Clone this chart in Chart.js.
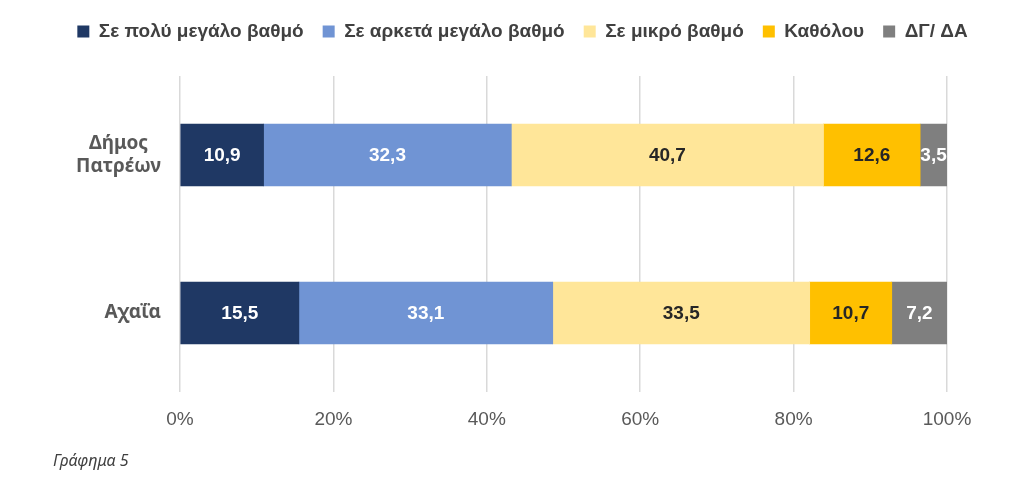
<!DOCTYPE html>
<html>
<head>
<meta charset="utf-8">
<script src="https://cdn.jsdelivr.net/npm/chart.js@4"></script>
<style>
  html, body { margin: 0; padding: 0; background: #fff; }
  #wrap { position: relative; width: 1011px; height: 484px; }
  #caption {
    position: absolute; left: 53px; top: 449px;
    font: italic 16px "Noto Sans", "Liberation Sans", sans-serif; color: #404040;
  }
</style>
</head>
<body>
<div id="wrap">
  <canvas id="chart" width="1011" height="484"></canvas>
  <div id="caption">Γράφημα 5</div>
</div>
<script>
// κατηγορίες (άξονας y)
const categories = [['Δήμος', 'Πατρέων'], 'Αχαΐα'];

// σειρές (%)
const seriesNames = ['Σε πολύ μεγάλο βαθμό', 'Σε αρκετά μεγάλο βαθμό', 'Σε μικρό βαθμό', 'Καθόλου', 'ΔΓ/ ΔΑ'];
const veryMuch   = [10.9, 15.5];
const quiteMuch  = [32.3, 33.1];
const little     = [40.7, 33.5];
const notAtAll   = [12.6, 10.7];
const dontKnow   = [3.5, 7.2];

const xTicks = [0, 20, 40, 60, 80, 100];

const colors = ['#1f3864', '#7094d4', '#ffe699', '#ffc000', '#7f7f7f'];
const labelColors = ['#ffffff', '#ffffff', '#262626', '#262626', '#ffffff'];

const allSeries = [veryMuch, quiteMuch, little, notAtAll, dontKnow];

// κενό κάτω από το υπόμνημα + μετατόπιση προς τα δεξιά
const legendGap = {
  id: 'legendGap',
  afterInit(chart) {
    const lg = chart.legend;
    const fit = lg.fit.bind(lg);
    lg.fit = function () { fit(); this.height += 25; };
  },
  afterLayout(chart) {
    chart.legend.left += 49;
    chart.legend.right += 49;
  }
};

// ετικέτες τιμών μέσα στις μπάρες
const barLabels = {
  id: 'barLabels',
  afterDatasetsDraw(chart) {
    const ctx = chart.ctx;
    ctx.save();
    ctx.font = 'bold 19px "Liberation Sans", Arial, sans-serif';
    ctx.textAlign = 'center';
    ctx.textBaseline = 'middle';
    chart.data.datasets.forEach((ds, i) => {
      chart.getDatasetMeta(i).data.forEach((bar, j) => {
        const txt = ds.data[j].toFixed(1).replace('.', ',');
        ctx.fillStyle = labelColors[i];
        ctx.fillText(txt, (bar.x + bar.base) / 2, bar.y + 1);
      });
    });
    ctx.restore();
  }
};

// ετικέτες κατηγοριών (κεντραρισμένες γραμμές, δεξιά στοίχιση μπλοκ)
const catLabels = {
  id: 'catLabels',
  afterDraw(chart) {
    const ctx = chart.ctx;
    const yScale = chart.scales.y;
    ctx.save();
    ctx.font = 'bold 19px "Noto Sans", sans-serif';
    ctx.fillStyle = '#595959';
    ctx.textAlign = 'center';
    ctx.textBaseline = 'middle';
    const right = chart.chartArea.left - 19;
    const lineH = 23;
    categories.forEach((c, i) => {
      const lines = Array.isArray(c) ? c : [c];
      const w = Math.max(...lines.map(l => ctx.measureText(l).width));
      const cx = right - w / 2;
      const y0 = yScale.getPixelForTick(i) - (lines.length - 1) * lineH / 2;
      lines.forEach((l, k) => ctx.fillText(l, cx, y0 + k * lineH));
    });
    ctx.restore();
  }
};

new Chart(document.getElementById('chart'), {
  type: 'bar',
  data: {
    labels: categories,
    datasets: allSeries.map((d, i) => ({
      label: seriesNames[i],
      data: d,
      backgroundColor: colors[i],
      borderWidth: 0,
      barThickness: 62
    }))
  },
  options: {
    indexAxis: 'y',
    responsive: false,
    animation: false,
    layout: { padding: { top: 3, right: 64, left: 0, bottom: 0 } },
    plugins: {
      legend: {
        position: 'top',
        labels: {
          boxWidth: 12,
          boxHeight: 12,
          padding: 19,
          color: '#404040',
          font: { family: '"Liberation Sans", Arial, sans-serif', size: 19, weight: 'bold' }
        }
      },
      tooltip: { enabled: false }
    },
    scales: {
      x: {
        stacked: true,
        min: 0,
        max: 100,
        afterBuildTicks(scale) { scale.ticks = xTicks.map(v => ({ value: v })); },
        afterFit(scale) { scale.height = 92; },
        grid: { color: '#d9d9d9', lineWidth: 1.5, drawTicks: false },
        border: { display: false },
        ticks: {
          padding: 16,
          color: '#595959',
          font: { family: '"Liberation Sans", Arial, sans-serif', size: 19 },
          callback: v => v + '%'
        }
      },
      y: {
        stacked: true,
        afterFit(scale) { scale.width = 180; },
        grid: { display: false },
        border: { display: false },
        ticks: { display: false }
      }
    }
  },
  plugins: [legendGap, barLabels, catLabels]
});
</script>
</body>
</html>
